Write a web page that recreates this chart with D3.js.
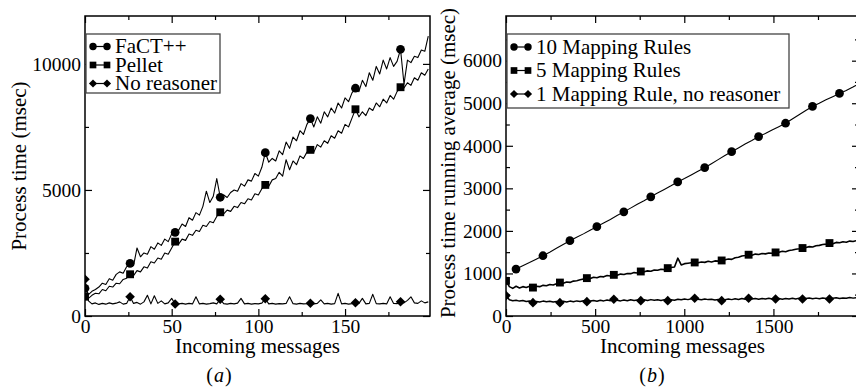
<!DOCTYPE html>
<html>
<head>
<meta charset="utf-8">
<script src="https://cdn.jsdelivr.net/npm/d3@7/dist/d3.min.js"></script>
<style>
  body { margin: 0; background: #fff; }
  svg { display: block; font-family: "Liberation Serif", "Times New Roman", serif; }
</style>
</head>
<body>
<svg id="chart" width="856" height="390"></svg>
<script>
// ---- panel (a): process time per message, sampled every 2 messages ----
const A_STEP = 2;
const factValues = [
  1100, 850, 980, 1050, 1150, 1300, 1250, 1480, 1420, 1650,
  1750, 1700, 1950, 2090, 2000, 2700, 2350, 2500, 2450, 2750,
  2650, 2900, 2800, 3050, 2950, 3250, 3320, 3400, 3650, 3550,
  3900, 3800, 4100, 4000, 4350, 4950, 4500, 4750, 5450, 4710,
  4800, 4700, 4900, 5000, 4950, 5250, 5150, 5400, 5350, 5650,
  5550, 5900, 6480, 6100, 6250, 6150, 6550, 6400, 6900, 6650,
  7100, 6950, 7350, 7200, 7600, 7830, 7500, 7900, 7650, 8100,
  7900, 8250, 8050, 8450, 8250, 8650, 8500, 8850, 9035, 8900,
  9350, 9100, 9650, 9350, 9900, 9600, 10150, 9800, 10250, 9900,
  10100, 10580, 9200, 10150, 10050, 10300, 10250, 10550, 10500, 11100
];
const pelletValues = [
  766, 700, 820, 900, 880, 1050, 1000, 1180, 1150, 1300,
  1280, 1450, 1500, 1655, 1600, 1800, 1750, 1950, 1900, 2150,
  2100, 2300, 2250, 2500, 2450, 2700, 2950, 2850, 3050, 3000,
  3250, 3200, 3400, 3350, 3600, 3550, 3750, 3700, 3950, 4115,
  4050, 4200, 4150, 4350, 4300, 4500, 4450, 4650, 4600, 4850,
  4800, 5050, 5200, 5150, 5400, 5450, 5700, 5550, 6200, 5800,
  6150, 6000, 6350, 6250, 6500, 6590, 6500, 6800, 6700, 6950,
  6850, 7150, 7050, 7350, 7250, 7600, 7500, 7850, 8200, 7900,
  8100, 7950, 8250, 8150, 8450, 8300, 8600, 8450, 8750, 8600,
  8900, 9075, 9050, 9250, 9150, 9450, 9350, 9650, 9550, 9800
];
const noReasonerValues = [
  1456, 600, 480, 520, 460, 500, 470, 520, 480, 510,
  560, 470, 500, 766, 500, 540, 470, 560, 820, 480,
  800, 500, 600, 480, 520, 700, 476, 480, 500, 470,
  500, 480, 760, 480, 500, 470, 490, 520, 480, 663,
  490, 470, 500, 480, 510, 700, 480, 500, 470, 490,
  480, 510, 687, 480, 500, 470, 490, 480, 500, 760,
  490, 470, 500, 480, 490, 504, 480, 500, 640, 480,
  500, 470, 490, 900, 480, 500, 470, 490, 528, 500,
  700, 480, 500, 860, 490, 480, 500, 480, 760, 500,
  490, 567, 520, 620, 760, 520, 500, 600, 520, 560
];

// ---- panel (b): running average, sampled every 18.9 messages ----
const B_STEP = 18.9;
const B10_START = 56;
const B10_STEP = 37.8;
const rules10Values = [
  1102, 1180, 1255, 1335, 1416, 1500, 1590, 1680, 1770, 1850,
  1930, 2015, 2100, 2185, 2270, 2360, 2447, 2535, 2625, 2710,
  2800, 2890, 2975, 3060, 3150, 3230, 3315, 3400, 3485, 3580,
  3675, 3770, 3862, 3950, 4040, 4125, 4216, 4290, 4370, 4450,
  4530, 4630, 4730, 4830, 4925, 5000, 5080, 5155, 5231, 5300,
  5380, 5470
];
const rules5Values = [
  826, 690, 650, 700, 660, 690, 670, 700, 668, 700,
  690, 720, 710, 740, 730, 760, 786, 770, 800, 790,
  820, 830, 850, 870, 890, 880, 910, 900, 930, 920,
  950, 940, 967, 960, 985, 975, 1000, 995, 1020, 1010,
  1046, 1040, 1060, 1050, 1080, 1075, 1100, 1090, 1125, 1140,
  1150, 1360, 1200, 1230, 1240, 1250, 1258, 1250, 1270, 1260,
  1285, 1270, 1295, 1290, 1305, 1320, 1340, 1330, 1370, 1380,
  1410, 1420, 1440, 1430, 1455, 1445, 1470, 1460, 1480, 1475,
  1494, 1500, 1520, 1510, 1540, 1550, 1570, 1580, 1597, 1610,
  1630, 1620, 1650, 1660, 1680, 1690, 1714, 1700, 1730, 1720,
  1745, 1735, 1760, 1750, 1770, 1780
];
const rules1Values = [
  479, 380, 360, 370, 350, 365, 340, 355, 314, 340,
  330, 350, 335, 345, 330, 340, 314, 345, 330, 350,
  335, 355, 340, 360, 337, 350, 365, 345, 370, 355,
  375, 360, 394, 370, 355, 375, 360, 380, 365, 375,
  361, 380, 365, 385, 370, 380, 365, 385, 361, 380,
  370, 395, 380, 400, 385, 405, 417, 395, 380, 400,
  385, 395, 375, 390, 361, 385, 400, 385, 405, 390,
  410, 395, 417, 400, 410, 395, 410, 400, 415, 400,
  401, 410, 395, 410, 400, 415, 400, 420, 401, 410,
  425, 405, 420, 405, 425, 410, 401, 415, 430, 410,
  425, 415, 435, 420, 432, 440
];

// tick values
const aXMajor = [0, 50, 100, 150], aXMinor = [25, 75, 125, 175];
const aYMajor = [0, 5000, 10000], aYMinor = [2500, 7500];
const bXMajor = [0, 500, 1000, 1500], bXMinor = [250, 750, 1250, 1750];
const bYMajor = [0, 1000, 2000, 3000, 4000, 5000, 6000];
const bYMinor = [500, 1500, 2500, 3500, 4500, 5500, 6500];

const svg = d3.select("#chart");

const shapes = {
  circle: { type: d3.symbolCircle, size: 60, rot: 0 },
  square: { type: d3.symbolSquare, size: 62, rot: 0 },
  diamond: { type: d3.symbolSquare, size: 46, rot: 45 }
};

function symbolPath(shape, scale) {
  const s = shapes[shape];
  return d3.symbol().type(s.type).size(s.size * (scale || 1))();
}

function drawPanel(cfg) {
  const x = d3.scaleLinear().domain(cfg.xDomain).range([cfg.left, cfg.right]);
  const y = d3.scaleLinear().domain(cfg.yDomain).range([cfg.bottom, cfg.top]);
  const g = svg.append("g");

  svg.append("clipPath").attr("id", "clip-" + cfg.id)
    .append("rect")
    .attr("x", cfg.left).attr("y", cfg.top)
    .attr("width", cfg.right - cfg.left).attr("height", cfg.bottom - cfg.top);

  const plot = g.append("g").attr("clip-path", `url(#clip-${cfg.id})`);
  const line = d3.line().x(d => x(d.x)).y(d => y(d.y));

  for (const s of cfg.series) {
    const pts = s.values.map((v, i) => ({ x: s.x0 + i * s.step, y: v, i }));
    plot.append("path").datum(pts)
      .attr("d", line)
      .attr("fill", "none")
      .attr("stroke", "#000")
      .attr("stroke-width", s.width || 1.1)
      .attr("stroke-linejoin", "round");
    plot.selectAll(null)
      .data(pts.filter(d => d.i % s.every === 0 && d.x <= s.markMax))
      .join("path")
      .attr("d", symbolPath(s.shape))
      .attr("transform", d => `translate(${x(d.x)},${y(d.y)}) rotate(${shapes[s.shape].rot})`)
      .attr("fill", "#000");
  }

  // axes: inward ticks on all four sides
  const addAxis = (axis, tx, ty, labels) => {
    const ag = g.append("g").attr("transform", `translate(${tx},${ty})`).call(axis);
    ag.select(".domain").remove();
    ag.selectAll(".tick line").attr("stroke", "#000").attr("stroke-width", 1.2);
    ag.selectAll("text").attr("fill", "#000").style("font-size", "19.5px")
      .style("font-family", "Liberation Serif, serif");
    if (!labels) ag.selectAll("text").remove();
    return ag;
  };
  const fmt = d3.format("d");
  addAxis(d3.axisBottom(x).tickValues(cfg.xMajor).tickSize(-7).tickPadding(3).tickFormat(fmt), 0, cfg.bottom, true);
  addAxis(d3.axisBottom(x).tickValues(cfg.xMinor).tickSize(-4).tickFormat(""), 0, cfg.bottom, false);
  addAxis(d3.axisTop(x).tickValues(cfg.xMajor).tickSize(-7).tickFormat(""), 0, cfg.top, false);
  addAxis(d3.axisTop(x).tickValues(cfg.xMinor).tickSize(-4).tickFormat(""), 0, cfg.top, false);
  addAxis(d3.axisLeft(y).tickValues(cfg.yMajor).tickSize(-7).tickPadding(4).tickFormat(fmt), cfg.left, 0, true);
  addAxis(d3.axisLeft(y).tickValues(cfg.yMinor).tickSize(-4).tickFormat(""), cfg.left, 0, false);
  addAxis(d3.axisRight(y).tickValues(cfg.yMajor).tickSize(-7).tickFormat(""), cfg.right, 0, false);
  addAxis(d3.axisRight(y).tickValues(cfg.yMinor).tickSize(-4).tickFormat(""), cfg.right, 0, false);

  g.append("rect")
    .attr("x", cfg.left).attr("y", cfg.top)
    .attr("width", cfg.right - cfg.left).attr("height", cfg.bottom - cfg.top)
    .attr("fill", "none").attr("stroke", "#000").attr("stroke-width", 1.5);

  // legend
  const lg = cfg.legend;
  g.append("rect")
    .attr("x", lg.x).attr("y", lg.y).attr("width", lg.w).attr("height", lg.h)
    .attr("fill", "#fff").attr("stroke", "#444").attr("stroke-width", 1.3);
  cfg.series.forEach((s, k) => {
    const cy = lg.y + lg.first + k * lg.gap;
    const sx0 = lg.x + 7, sx1 = lg.x + 21;
    g.append("line").attr("x1", sx0).attr("x2", sx1).attr("y1", cy).attr("y2", cy)
      .attr("stroke", "#000").attr("stroke-width", 1.2);
    [sx0, sx1].forEach(sx => {
      g.append("path").attr("d", symbolPath(s.shape, 0.72))
        .attr("transform", `translate(${sx},${cy}) rotate(${shapes[s.shape].rot})`)
        .attr("fill", "#000");
    });
    g.append("text")
      .attr("x", lg.x + 29).attr("y", cy + 6.8)
      .style("font-size", "21px")
      .text(s.name);
  });

  // axis titles
  g.append("text")
    .attr("x", (cfg.left + cfg.right) / 2).attr("y", 353)
    .attr("text-anchor", "middle").style("font-size", "21px")
    .text(cfg.xTitle);
  g.append("text")
    .attr("transform", `translate(${cfg.yTitleX},${cfg.yTitleY}) rotate(-90)`)
    .attr("text-anchor", "middle").style("font-size", "21px")
    .text(cfg.yTitle);

  // subfigure caption
  const cap = g.append("text")
    .attr("x", cfg.captionX).attr("y", 382)
    .attr("text-anchor", "middle").style("font-size", "20px");
  cap.append("tspan").text("(");
  cap.append("tspan").style("font-style", "italic").attr("dx", 1).text(cfg.caption);
  cap.append("tspan").attr("dx", 1).text(")");
}

drawPanel({
  id: "a",
  left: 85, right: 430, top: 16, bottom: 316,
  xDomain: [0, 199], yDomain: [0, 11900],
  xMajor: aXMajor, xMinor: aXMinor, yMajor: aYMajor, yMinor: aYMinor,
  series: [
    { name: "FaCT++", values: factValues, x0: 0, step: A_STEP, every: 13, markMax: 199, shape: "circle" },
    { name: "Pellet", values: pelletValues, x0: 0, step: A_STEP, every: 13, markMax: 199, shape: "square" },
    { name: "No reasoner", values: noReasonerValues, x0: 0, step: A_STEP, every: 13, markMax: 199, shape: "diamond" }
  ],
  legend: { x: 86, y: 34, w: 134, h: 59, first: 12.5, gap: 18.5 },
  xTitle: "Incoming messages",
  yTitle: "Process time (msec)", yTitleX: 26, yTitleY: 166,
  caption: "a", captionX: 219
});

drawPanel({
  id: "b",
  left: 506, right: 859, top: 16, bottom: 316,
  xDomain: [0, 1980], yDomain: [0, 7050],
  xMajor: bXMajor, xMinor: bXMinor, yMajor: bYMajor, yMinor: bYMinor,
  series: [
    { name: "10 Mapping Rules", values: rules10Values, x0: B10_START, step: B10_STEP, every: 4, markMax: 1900, shape: "circle" },
    { name: "5 Mapping Rules", values: rules5Values, x0: 0, step: B_STEP, every: 8, markMax: 1900, shape: "square", width: 1.6 },
    { name: "1 Mapping Rule, no reasoner", values: rules1Values, x0: 0, step: B_STEP, every: 8, markMax: 1900, shape: "diamond", width: 1.5 }
  ],
  legend: { x: 507, y: 34, w: 282, h: 74, first: 13, gap: 23.5 },
  xTitle: "Incoming messages",
  yTitle: "Process time running average (msec)", yTitleX: 455, yTitleY: 163,
  caption: "b", captionX: 652
});
</script>
</body>
</html>
